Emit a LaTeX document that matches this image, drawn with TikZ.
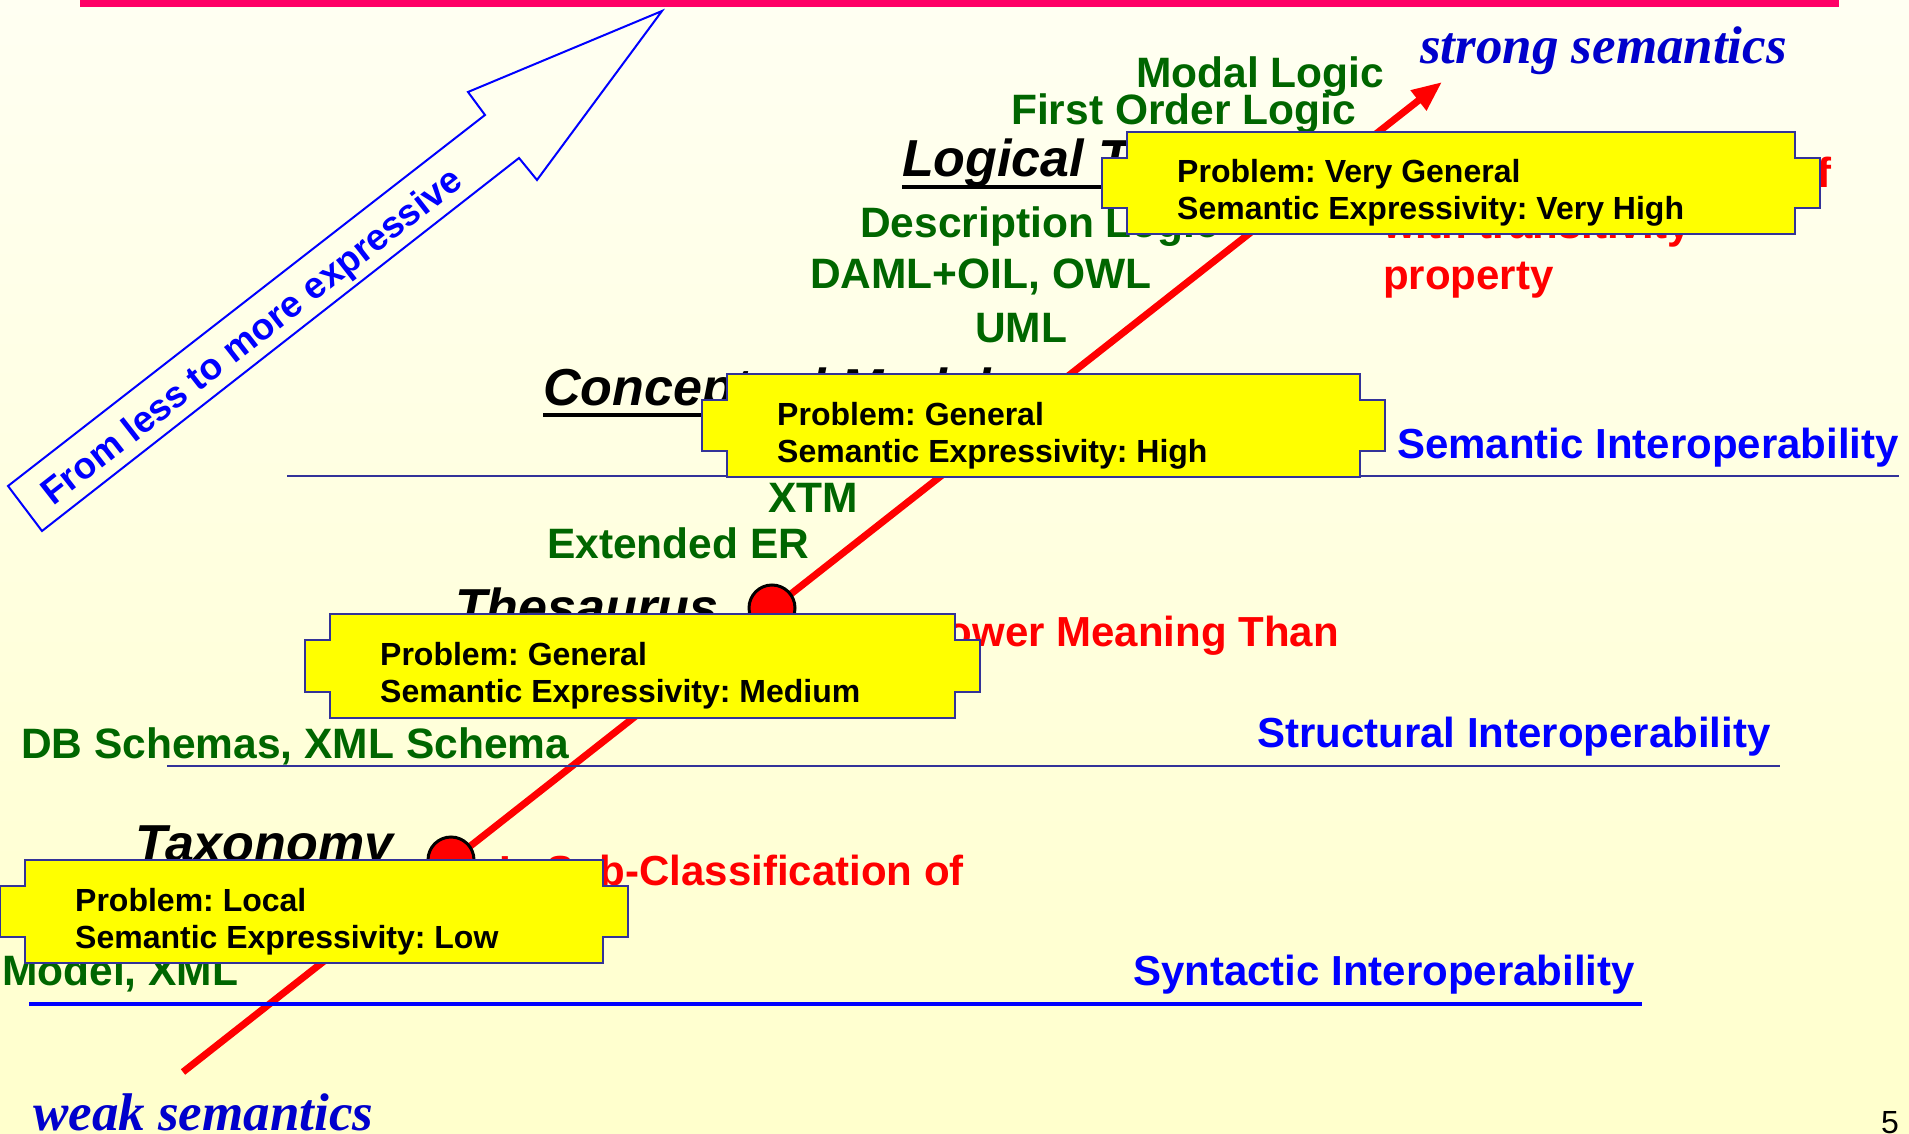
\documentclass[tikz,border=0pt]{standalone}
\usepackage{fontspec}
\setmainfont{Liberation Sans}
\newfontfamily\timesfont{Liberation Serif}
\usetikzlibrary{arrows.meta}
\frenchspacing

\definecolor{slidetop}{RGB}{255,255,242}
\definecolor{slidebottom}{RGB}{255,255,204}
\definecolor{barpink}{RGB}{255,0,102}
\definecolor{navyline}{RGB}{51,51,153}
\definecolor{termgreen}{RGB}{0,102,0}
\definecolor{semblue}{RGB}{0,0,204}
\definecolor{boxyellow}{RGB}{255,255,0}

% yellow problem box with a tab on each side
\newcommand{\probbox}[6]{%
  \draw[boxline] (#2,#3) -- (#4,#3) -- (#4,#3+26) -- (#4+25,#3+26) -- (#4+25,#5-26) -- (#4,#5-26)
    -- (#4,#5) -- (#2,#5) -- (#2,#5-26) -- (#2-25,#5-26) -- (#2-25,#3+26) -- (#2,#3+26) -- cycle;
  \node[boxtext] (#1) at (#2+50,#3+88) {#6};
}

\begin{document}
\begin{tikzpicture}[x=1pt, y=-1pt,
    termtext/.style={text=termgreen, font=\bfseries\fontsize{42.5}{50}\selectfont, anchor=base west, inner sep=0},
    interop/.style={text=blue, font=\bfseries\fontsize{42}{50}\selectfont, anchor=base west, inner sep=0},
    relation/.style={text=red, font=\bfseries\fontsize{42}{51}\selectfont, inner sep=0},
    levelname/.style={font=\bfseries\itshape\fontsize{52}{60}\selectfont, anchor=base west, inner sep=0},
    semtext/.style={text=semblue, font=\timesfont\bfseries\itshape\fontsize{53}{60}\selectfont, anchor=base west, inner sep=0},
    boxline/.style={draw=navyline, line width=2, fill=boxyellow},
    boxtext/.style={font=\bfseries\fontsize{32}{37}\selectfont, align=left, anchor=base west, inner sep=0},
    dot/.style={circle, draw=black, line width=3, fill=red, minimum size=46, inner sep=0},
    uline/.style={line width=4.5}]
    \useasboundingbox (0,0) rectangle (1909,1134);
    \shade[top color=slidetop, bottom color=slidebottom] (0,0) rectangle (1909,1134);
    \fill[barpink] (80,0) rectangle (1839,7);

    % semantics axis
    \coordinate (weakend) at (183,1072);
    \coordinate (strongend) at (1442,82);
    \draw[red, line width=7, -{Triangle[length=30,width=24]}] (weakend) -- (strongend);

    % interoperability levels
    \draw[navyline, line width=2.5] (287,476) -- (1899,476);
    \draw[navyline, line width=2.5] (167,766) -- (1780,766);
    \draw[blue, line width=3.5] (29,1004) -- (1642,1004);
    \node[interop] (semint) at (1397,458) {Semantic Interoperability};
    \node[interop] (strint) at (1257,747) {Structural Interoperability};
    \node[interop] (synint) at (1133,985) {Syntactic Interoperability};

    \node[dot] (taxdot) at (451,860) {};
    \node[dot] (thesdot) at (772,608) {};

    \node[semtext] (strong) at (1420,64) {strong semantics};
    \node[semtext] (weak) at (33,1130) {weak semantics};

    % languages
    \node[termtext] (modal) at (1136,88) {Modal Logic};
    \node[termtext] (fol) at (1011,125) {First Order Logic};
    \node[termtext] (dl) at (860,237) {Description Logic};
    \node[termtext] (owl) at (810,288) {DAML+OIL, OWL};
    \node[termtext] (uml) at (975,342) {UML};
    \node[termtext] (xtm) at (768,512) {XTM};
    \node[termtext] (eer) at (547,558) {Extended ER};
    \node[termtext] (dbs) at (21,758) {DB Schemas, XML Schema};
    \node[termtext] (xml) at (2,985) {Model, XML};

    % relations
    \node[relation, align=left, anchor=base west] (disjoint) at (1383,289) {Is Disjoint Subclass of\\with transitivity\\property};
    \node[relation, anchor=base east] (narrower) at (1339,646) {Has Narrower Meaning Than};
    \node[relation, anchor=base east] (subclass) at (964,885) {Is Sub-Classification of};

    % ontology kinds
    \node[levelname] (logical) at (902,177) {Logical Theory};
    \node[levelname] (concept) at (543,405) {Conceptual Model};
    \node[levelname] (thesaurus) at (455,625) {Thesaurus};
    \node[levelname] (taxonomy) at (135,861) {Taxonomy};
    \draw[uline] ([yshift=-10pt]logical.base west) -- ([yshift=-10pt]logical.base east);
    \draw[uline] ([yshift=-10pt]concept.base west) -- ([yshift=-10pt]concept.base east);

    % big hollow arrow
    \draw[blue, line width=2] (662,11) -- (468,92) -- (485,115) -- (8,486) -- (42,531) -- (519,158) -- (537,180) -- cycle;
    \node[text=blue, font=\bfseries\fontsize{37}{40}\selectfont, rotate=38] (expressive) at (253,338) {From less to more expressive};

    \probbox{vgbox}{1127}{132}{1795}{234}{Problem: Very General\\Semantic Expressivity: Very High}
    \probbox{hibox}{727}{374}{1360}{477}{Problem: General\\Semantic Expressivity: High}
    \probbox{medbox}{330}{614}{955}{718}{Problem: General\\Semantic Expressivity: Medium}
    \probbox{lowbox}{25}{860}{603}{963}{Problem: Local\\Semantic Expressivity: Low}

    \node[anchor=base west, inner sep=0, font=\fontsize{32}{32}\selectfont] (pagenum) at (1881,1133) {5};
\end{tikzpicture}
\end{document}
